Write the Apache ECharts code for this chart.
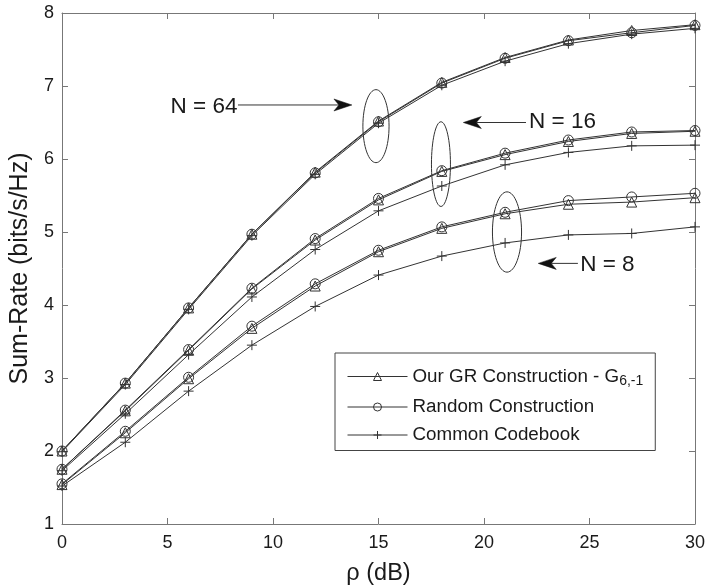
<!DOCTYPE html>
<html>
<head>
<meta charset="utf-8">
<script src="https://cdn.jsdelivr.net/npm/echarts@6/dist/echarts.min.js"></script>
<style>
  html, body { margin: 0; padding: 0; background: #fff; }
  #chart { width: 707px; height: 587px; }
</style>
</head>
<body>
<div id="chart"></div>
<script>
// SNR points (dB)
const rho = [0, 3, 6, 9, 12, 15, 18, 21, 24, 27, 30];

// Sum-rate (bits/s/Hz), N = 64
const gr64  = [2.00, 2.93, 3.96, 4.97, 5.82, 6.52, 7.05, 7.39, 7.63, 7.76, 7.84];
const rnd64 = [2.00, 2.93, 3.96, 4.97, 5.81, 6.51, 7.04, 7.38, 7.62, 7.73, 7.83];
const cc64  = [1.99, 2.91, 3.94, 4.95, 5.79, 6.49, 7.01, 7.34, 7.58, 7.71, 7.79];

// N = 16
const gr16  = [1.75, 2.55, 3.38, 4.22, 4.89, 5.44, 5.83, 6.06, 6.24, 6.35, 6.38];
const rnd16 = [1.75, 2.56, 3.39, 4.23, 4.91, 5.46, 5.84, 6.08, 6.26, 6.37, 6.39];
const cc16  = [1.73, 2.51, 3.32, 4.11, 4.76, 5.29, 5.63, 5.92, 6.09, 6.18, 6.19];

// N = 8
const gr8   = [1.54, 2.25, 2.99, 3.68, 4.26, 4.73, 5.05, 5.25, 5.38, 5.41, 5.47];
const rnd8  = [1.55, 2.27, 3.01, 3.71, 4.29, 4.75, 5.07, 5.27, 5.43, 5.48, 5.53];
const cc8   = [1.52, 2.12, 2.82, 3.45, 3.98, 4.41, 4.67, 4.85, 4.96, 4.98, 5.07];

const xTicks = [0, 5, 10, 15, 20, 25, 30];
const yTicks = [1, 2, 3, 4, 5, 6, 7, 8];

const NAME_GR = 'Our GR Construction - G';
const NAME_RND = 'Random Construction';
const NAME_CC = 'Common Codebook';

const LINE = '#333';
const AXIS = '#777';
const TEXT = '#1a1a1a';
const FONT = 'Liberation Sans, Arial, Helvetica, sans-serif';

const PLUS = 'path://M5,0L5,10M0,5L10,5';

const markerOf = {
  [NAME_GR]:  { symbol: 'triangle', size: 10 },
  [NAME_RND]: { symbol: 'circle',   size: 10 },
  [NAME_CC]:  { symbol: PLUS,       size: 10 }
};

function makeSeries(name, values) {
  const m = markerOf[name];
  return {
    name: name,
    type: 'line',
    data: rho.map((x, i) => [x, values[i]]),
    symbol: m.symbol,
    symbolSize: m.size,
    showAllSymbol: true,
    lineStyle: { color: LINE, width: 1 },
    itemStyle: { color: 'none', borderColor: LINE, borderWidth: 1 },
    emphasis: { disabled: true },
    z: 3
  };
}

const series = [
  makeSeries(NAME_GR, gr64), makeSeries(NAME_RND, rnd64), makeSeries(NAME_CC, cc64),
  makeSeries(NAME_GR, gr16), makeSeries(NAME_RND, rnd16), makeSeries(NAME_CC, cc16),
  makeSeries(NAME_GR, gr8),  makeSeries(NAME_RND, rnd8),  makeSeries(NAME_CC, cc8)
];

const boxAxis = {
  axisLine: { show: true, onZero: false, lineStyle: { color: AXIS, width: 1 } },
  axisTick: { show: true, inside: true, length: 6, lineStyle: { color: AXIS } },
  splitLine: { show: false }
};

const chart = echarts.init(document.getElementById('chart'), null, { renderer: 'canvas' });

chart.setOption({
  animation: false,
  backgroundColor: '#fff',
  textStyle: { fontFamily: FONT },
  grid: { left: 62, right: 12, top: 13, bottom: 63, containLabel: false, outerBoundsMode: 'none' },
  xAxis: [
    Object.assign({
      type: 'value', min: xTicks[0], max: xTicks[xTicks.length - 1], interval: 5,
      position: 'bottom',
      axisLabel: { fontSize: 18, color: TEXT, margin: 10, fontFamily: FONT },
      name: 'ρ (dB)', nameLocation: 'middle', nameGap: 38,
      nameTextStyle: { fontSize: 23.5, color: TEXT, fontFamily: FONT }
    }, boxAxis),
    Object.assign({
      type: 'value', min: xTicks[0], max: xTicks[xTicks.length - 1], interval: 5,
      position: 'top', axisLabel: { show: false }
    }, boxAxis)
  ],
  yAxis: [
    Object.assign({
      type: 'value', min: yTicks[0], max: yTicks[yTicks.length - 1], interval: 1,
      position: 'left',
      axisLabel: { fontSize: 18, color: TEXT, margin: 8, fontFamily: FONT },
      name: 'Sum-Rate (bits/s/Hz)', nameLocation: 'middle', nameGap: 29, nameRotate: 90,
      nameTextStyle: { fontSize: 25, color: TEXT, fontFamily: FONT }
    }, boxAxis),
    Object.assign({
      type: 'value', min: yTicks[0], max: yTicks[yTicks.length - 1], interval: 1,
      position: 'right', axisLabel: { show: false }
    }, boxAxis)
  ],
  legend: {
    data: [NAME_GR, NAME_RND, NAME_CC],
    orient: 'vertical',
    left: 335,
    top: 353,
    itemWidth: 60,
    itemHeight: 10,
    itemGap: 9,
    padding: [14, 12, 6, 12],
    borderColor: '#444',
    borderWidth: 1,
    backgroundColor: '#fff',
    selectedMode: false,
    lineStyle: { color: LINE, width: 1 },
    itemStyle: { color: 'none', borderColor: LINE, borderWidth: 1 },
    formatter: function (name) {
      return name === NAME_GR ? '{t|' + name + '}{s|6,-1}' : '{t|' + name + '}';
    },
    textStyle: {
      fontFamily: FONT,
      fontSize: 18.8,
      color: TEXT,
      rich: {
        t: { fontSize: 18.8, color: TEXT, fontFamily: FONT },
        s: { fontSize: 14, color: TEXT, fontFamily: FONT, padding: [10, 0, 0, 0] }
      }
    }
  },
  series: series
});

// Callouts: label text, arrow and grouping ellipse, placed in data coordinates
const callouts = [
  { text: 'N = 64', textAt: [6.73, 6.715], arrowFrom: [8.34, 6.74], arrowTo: [13.74, 6.74],
    ellipse: { c: [14.88, 6.45], rx: 0.62, ry: 0.50 } },
  { text: 'N = 16', textAt: [23.72, 6.51], arrowFrom: [21.99, 6.50], arrowTo: [19.02, 6.50],
    ellipse: { c: [17.96, 5.93], rx: 0.45, ry: 0.58 } },
  { text: 'N = 8', textAt: [25.85, 4.55], arrowFrom: [24.45, 4.57], arrowTo: [22.57, 4.57],
    ellipse: { c: [21.09, 5.00], rx: 0.69, ry: 0.55 } }
];

function px(p) { return chart.convertToPixel({ xAxisIndex: 0, yAxisIndex: 0 }, p); }

const elements = [];
callouts.forEach(function (c) {
  const t = px(c.textAt);
  elements.push({
    type: 'text', x: t[0], y: t[1], z: 10,
    style: { text: c.text, fill: TEXT, font: '22.5px ' + FONT, textAlign: 'center', textVerticalAlign: 'middle' }
  });
  const a = px(c.arrowFrom), b = px(c.arrowTo);
  const dx = b[0] - a[0], dy = b[1] - a[1];
  const len = Math.sqrt(dx * dx + dy * dy);
  const ux = dx / len, uy = dy / len, vx = -uy, vy = ux;
  const L = 18, W = 6, notch = 5;
  elements.push({
    type: 'line', z: 10,
    shape: { x1: a[0], y1: a[1], x2: b[0] - ux * (L - notch), y2: b[1] - uy * (L - notch) },
    style: { stroke: LINE, lineWidth: 1 }
  });
  elements.push({
    type: 'polygon', z: 10,
    shape: { points: [
      [b[0], b[1]],
      [b[0] - ux * L + vx * W, b[1] - uy * L + vy * W],
      [b[0] - ux * (L - notch), b[1] - uy * (L - notch)],
      [b[0] - ux * L - vx * W, b[1] - uy * L - vy * W]
    ] },
    style: { fill: '#111', stroke: '#111', lineWidth: 0.5 }
  });
  const e = c.ellipse;
  const ctr = px(e.c);
  const edgeX = px([e.c[0] + e.rx, e.c[1]]);
  const edgeY = px([e.c[0], e.c[1] + e.ry]);
  elements.push({
    type: 'ellipse', z: 10,
    shape: { cx: ctr[0], cy: ctr[1], rx: Math.abs(edgeX[0] - ctr[0]), ry: Math.abs(edgeY[1] - ctr[1]) },
    style: { fill: 'none', stroke: LINE, lineWidth: 1 }
  });
});

chart.setOption({ graphic: { elements: elements } });
</script>
</body>
</html>
